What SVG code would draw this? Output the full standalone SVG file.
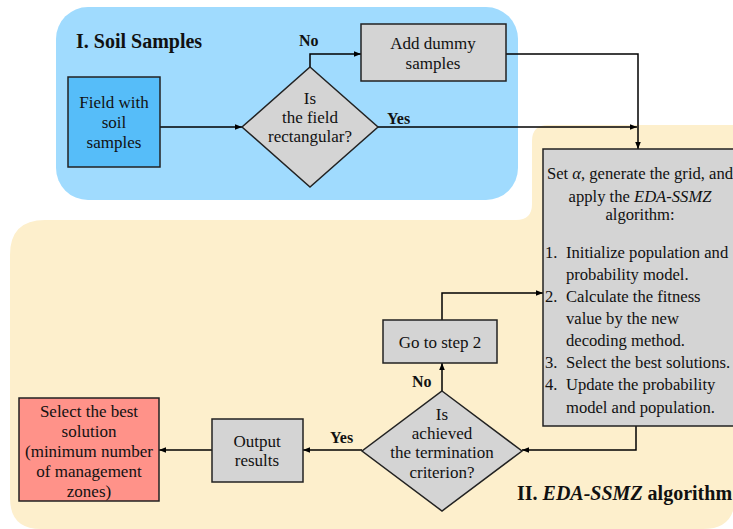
<svg xmlns="http://www.w3.org/2000/svg" width="733" height="529" viewBox="0 0 733 529" font-family="'Liberation Serif', 'Times New Roman', serif">
<defs>
<marker id="ah" viewBox="0 0 10 10" refX="10" refY="5" markerWidth="7" markerHeight="7" markerUnits="userSpaceOnUse" orient="auto">
<path d="M0,1 L10,5 L0,9 z" fill="#000"/>
</marker>
<style>
text{font-family:'Liberation Serif','Times New Roman',serif;font-size:17px;fill:#111;}
.c{text-anchor:middle;}
.b{font-weight:bold;font-size:16px;}
.t{font-weight:bold;font-size:20px;}
.m{font-size:16.6px;}
.box{stroke:#222;stroke-width:1.5;}
.gray{fill:#d4d4d4;}
.ln{fill:none;stroke:#000;stroke-width:1.5;marker-end:url(#ah);}
</style>
</defs>
<rect width="733" height="529" fill="#fff"/>
<path d="M10,255 Q10,220 45,220 L516,220 Q532,220 532,204 L532,141 Q532,125 548,125 L760,125 L760,560 L10,560 Z" fill="#fdefcc"/>
<rect x="704" y="480" width="40" height="60" fill="#fff"/>
<path d="M700,529 L703,529 Q735,529 735,497 L735,480 L700,480 Z" fill="#fdefcc"/>
<rect x="10" y="480" width="40" height="60" fill="#fff"/>
<path d="M10,480 L10,498 Q10,529 41,529 L50,529 L50,480 Z" fill="#fdefcc"/>
<rect x="56" y="7" width="462" height="193" rx="32" fill="#a0dbfe"/>
<text x="76" y="48" class="t">I. Soil Samples</text>
<text x="517" y="500" class="t">II. <tspan font-style="italic">EDA-SSMZ</tspan> algorithm</text>

<g id="connectors">
<path class="ln" d="M160,127 L242,127"/>
<path class="ln" d="M310,67 L310,54 L361,54"/>
<path class="ln" d="M506,54 L638,54 L638,149"/>
<path class="ln" d="M378,127 L637,127"/>
<path class="ln" d="M636,426 L636,450 L522,450"/>
<path class="ln" d="M442,391 L442,363"/>
<path class="ln" d="M442,320 L442,293 L543,293"/>
<path class="ln" d="M362,450 L303,450"/>
<path class="ln" d="M212,450 L159,450"/>
<text x="299" y="46" class="b">No</text>
<text x="387" y="124" class="b">Yes</text>
<text x="330" y="443" class="b">Yes</text>
<text x="412" y="387" class="b">No</text>
</g>

<g id="field">
<rect class="box" x="68" y="77" width="92" height="90" fill="#56bdf9"/>
<text class="c" x="114" y="108">Field with</text>
<text class="c" x="114" y="128">soil</text>
<text class="c" x="114" y="148">samples</text>
</g>
<g id="rect-check">
<path class="box gray" d="M310,67 L378,127 L310,187 L242,127 Z"/>
<text class="c" x="310" y="104">Is</text>
<text class="c" x="310" y="123">the field</text>
<text class="c" x="310" y="142">rectangular?</text>
</g>
<g id="dummy">
<rect class="box gray" x="361" y="24" width="145" height="57"/>
<text class="c" x="433" y="49">Add dummy</text>
<text class="c" x="433" y="69">samples</text>
</g>
<g id="eda">
<rect class="box gray" x="543" y="149" width="200" height="277"/>
<text class="c m" x="640" y="179">Set <tspan font-style="italic">α</tspan>, generate the grid, and</text>
<text class="c m" x="640" y="202">apply the <tspan font-style="italic">EDA-SSMZ</tspan></text>
<text class="c m" x="640" y="220">algorithm:</text>
<text class="m" x="545" y="258">1.</text><text class="m" x="566" y="258">Initialize population and</text>
<text class="m" x="566" y="280">probability model.</text>
<text class="m" x="545" y="302">2.</text><text class="m" x="566" y="302">Calculate the fitness</text>
<text class="m" x="566" y="324">value by the new</text>
<text class="m" x="566" y="346">decoding method.</text>
<text class="m" x="545" y="368">3.</text><text class="m" x="566" y="368">Select the best solutions.</text>
<text class="m" x="545" y="390">4.</text><text class="m" x="566" y="390">Update the probability</text>
<text class="m" x="566" y="413">model and population.</text>
</g>
<g id="goto">
<rect class="box gray" x="383" y="320" width="114" height="43"/>
<text class="c" x="440" y="348">Go to step 2</text>
</g>
<g id="term-check">
<path class="box gray" d="M442,391 L522,451 L442,511 L362,451 Z"/>
<text class="c" x="442" y="420">Is</text>
<text class="c" x="442" y="439">achieved</text>
<text class="c" x="442" y="458">the termination</text>
<text class="c" x="442" y="478">criterion?</text>
</g>
<g id="output">
<rect class="box gray" x="212" y="419" width="91" height="63"/>
<text class="c" x="257" y="447">Output</text>
<text class="c" x="257" y="466">results</text>
</g>
<g id="best">
<rect class="box" x="19" y="398" width="140" height="103" fill="#ff9289"/>
<text class="c" x="89" y="417">Select the best</text>
<text class="c" x="89" y="437">solution</text>
<text class="c" x="89" y="457">(minimum number</text>
<text class="c" x="89" y="477">of management</text>
<text class="c" x="89" y="497">zones)</text>
</g>
</svg>
